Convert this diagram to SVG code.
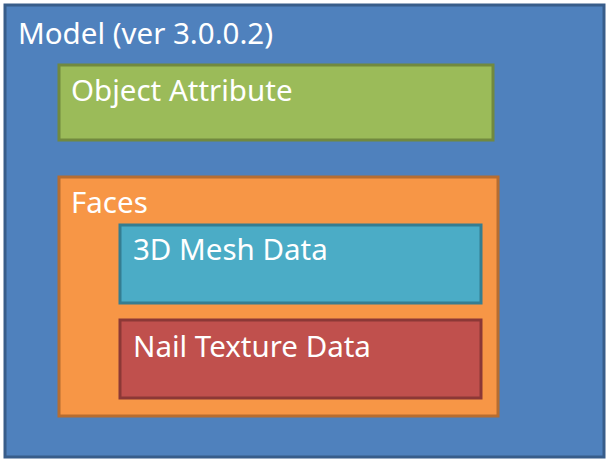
<svg xmlns="http://www.w3.org/2000/svg" width="609" height="465" viewBox="0 0 609 465">
<style>
.t{font-family:"Noto Sans","Open Sans","DejaVu Sans",sans-serif;font-size:29.5px;fill:#ffffff}
.box{stroke-width:3}
</style>
<rect width="609" height="465" fill="#ffffff"/>
<g id="model">
<rect class="box" x="5" y="5" width="599" height="452" fill="#4f81bd" stroke="#385d8a"/>
<text class="t" x="18" y="44">Model (ver 3.0.0.2)</text>
</g>
<g id="object-attribute">
<rect class="box" x="59" y="65" width="434" height="75" fill="#9bbb59" stroke="#71893f"/>
<text class="t" x="71" y="101">Object Attribute</text>
</g>
<g id="faces">
<rect class="box" x="59" y="177" width="439" height="239" fill="#f79646" stroke="#b66d31"/>
<text class="t" x="71" y="213">Faces</text>
</g>
<g id="mesh">
<rect class="box" x="120" y="225" width="361" height="78" fill="#4bacc6" stroke="#357d91"/>
<text class="t" x="133" y="260">3D Mesh Data</text>
</g>
<g id="nail">
<rect class="box" x="120" y="320" width="361" height="78" fill="#c0504d" stroke="#8c3836"/>
<text class="t" x="133" y="357">Nail Texture Data</text>
</g>
<g id="connectors"></g>
</svg>
